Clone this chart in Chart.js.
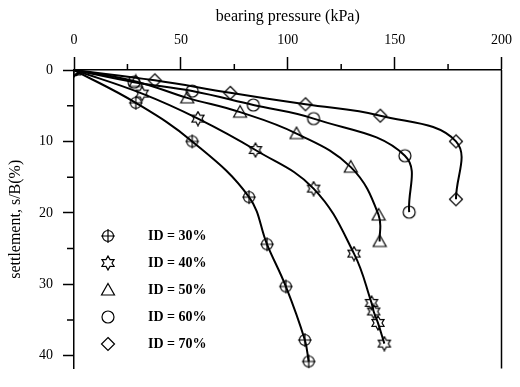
<!DOCTYPE html>
<html>
<head>
<meta charset="utf-8">
<script src="https://cdn.jsdelivr.net/npm/chart.js@4/dist/chart.umd.min.js"></script>
<style>
  html, body { margin: 0; padding: 0; background: #fff; overflow: hidden; }
  #wrap { width: 520px; height: 387px; }
</style>
</head>
<body>
<div id="wrap"><canvas id="myChart"></canvas></div>
<script>
// values
const seriesLabels = ["ID = 30%", "ID = 40%", "ID = 50%", "ID = 60%", "ID = 70%"];
const markerKinds = ["circleCross", "hexagram", "triangle", "circle", "diamond"];

const id30X = [0, 28.9, 55.3, 81.9, 90.3, 99.1, 108.0, 109.8];
const id30Y = [0, 4.6, 10.0, 17.8, 24.4, 30.3, 37.8, 40.8];
const id40X = [0, 31.9, 58.0, 84.9, 112.1, 131.0, 139.2, 140.2, 142.2, 145.2];
const id40Y = [0, 3.3, 6.8, 11.2, 16.6, 25.7, 32.6, 33.8, 35.4, 38.3];
const id50X = [0, 28.9, 53.0, 77.7, 104.1, 129.5, 142.5, 143.0];
const id50Y = [0, 1.6, 3.9, 5.9, 8.9, 13.6, 20.3, 24.0];
const id60X = [0, 28.1, 55.3, 83.9, 112.1, 154.8, 156.8];
const id60Y = [0, 1.7, 2.95, 4.9, 6.8, 12.0, 19.9];
const id70X = [0, 37.8, 73.1, 108.3, 143.3, 178.7, 178.7];
const id70Y = [0, 1.45, 3.2, 4.8, 6.4, 10.0, 18.1];

const xTickLabels = [0, 50, 100, 150, 200];
const yTickLabels = [0, 10, 20, 30, 40];

const serif = "'Liberation Serif', 'Times New Roman', serif";

// hollow black markers drawn on small canvases
const makeMarker = (kind) => {
  const c = document.createElement("canvas");
  c.width = 16;
  c.height = 16;
  const g = c.getContext("2d");
  g.strokeStyle = "#000";
  g.lineWidth = 1.2;
  const m = 8;
  g.beginPath();
  if (kind === "circleCross") {
    g.arc(m, m, 5.5, 0, Math.PI * 2);
    g.moveTo(m - 7, m); g.lineTo(m + 7, m);
    g.moveTo(m, m - 7); g.lineTo(m, m + 7);
  } else if (kind === "circle") {
    g.arc(m, m, 6, 0, Math.PI * 2);
  } else if (kind === "triangle") {
    g.moveTo(m, m - 6.5); g.lineTo(m + 6.5, m + 5); g.lineTo(m - 6.5, m + 5); g.closePath();
  } else if (kind === "diamond") {
    g.moveTo(m, m - 6.5); g.lineTo(m + 6.5, m); g.lineTo(m, m + 6.5); g.lineTo(m - 6.5, m); g.closePath();
  } else if (kind === "hexagram") {
    for (let i = 0; i < 12; i++) {
      const r = i % 2 === 0 ? 7 : 4;
      const a = -Math.PI / 2 + i * Math.PI / 6;
      const px = m + r * Math.cos(a), py = m + r * Math.sin(a);
      if (i === 0) g.moveTo(px, py); else g.lineTo(px, py);
    }
    g.closePath();
  }
  g.stroke();
  return c;
};

const markers = markerKinds.map(makeMarker);

const toPoints = (xs, ys) => xs.map((x, i) => ({ x: x, y: ys[i] }));
const allX = [id30X, id40X, id50X, id60X, id70X];
const allY = [id30Y, id40Y, id50Y, id60Y, id70Y];

const datasets = seriesLabels.map((label, i) => ({
  label: label,
  data: toPoints(allX[i], allY[i]),
  showLine: true,
  borderColor: "#000",
  borderWidth: 2,
  tension: 0.4,
  pointStyle: markers[i],
  backgroundColor: "rgba(0,0,0,0)"
}));

// minor ticks, right frame and in-plot legend
const extras = {
  id: "extras",
  afterDraw(chart) {
    const ctx = chart.ctx;
    const area = chart.chartArea;
    const xs = chart.scales.x;
    const ys = chart.scales.y;
    ctx.save();
    ctx.strokeStyle = "#000";
    ctx.lineWidth = 1.5;
    ctx.beginPath();
    for (let v = 25; v < 200; v += 50) {
      const px = xs.getPixelForValue(v);
      ctx.moveTo(px, area.top); ctx.lineTo(px, area.top - 6);
    }
    for (let v = 5; v < ys.max; v += 10) {
      const py = ys.getPixelForValue(v);
      ctx.moveTo(area.left, py); ctx.lineTo(area.left - 7, py);
    }
    ctx.moveTo(area.right, area.top); ctx.lineTo(area.right, area.bottom);
    ctx.stroke();

    ctx.font = "bold 14px " + serif;
    ctx.fillStyle = "#000";
    ctx.textBaseline = "middle";
    seriesLabels.forEach((label, i) => {
      const y = Math.round(area.top + 166 + i * 27);
      ctx.drawImage(markers[i], area.left + 34 - 8, y - 8);
      ctx.fillText(label, area.left + 74, y);
    });
    ctx.restore();
  }
};

const ctx = document.getElementById("myChart").getContext("2d");
const myChart = new Chart(ctx, {
  type: "scatter",
  data: { datasets: datasets },
  options: {
    responsive: true,
    maintainAspectRatio: false,
    animation: false,
    layout: { padding: { left: 0, right: 12, top: 0, bottom: 0 } },
    elements: { point: { radius: 6 } },
    plugins: {
      legend: { display: false },
      tooltip: { enabled: false }
    },
    scales: {
      x: {
        type: "linear",
        position: "top",
        min: 0,
        max: 200,
        afterFit: (scale) => { scale.height = 70; },
        afterBuildTicks: (scale) => { scale.ticks = xTickLabels.map((v) => ({ value: v })); },
        ticks: {
          color: "#000",
          font: { family: serif, size: 14 },
          padding: 8,
          maxRotation: 0,
          autoSkip: false,
          callback: (v) => String(v)
        },
        grid: {
          drawOnChartArea: false,
          drawTicks: true,
          tickLength: 13,
          tickWidth: 1.5,
          tickColor: "#000"
        },
        border: { display: true, color: "#000", width: 1.5 },
        title: {
          display: true,
          text: "bearing pressure (kPa)",
          color: "#000",
          font: { family: serif, size: 16 },
          padding: { top: 7, bottom: 0 }
        }
      },
      y: {
        type: "linear",
        reverse: true,
        min: 0,
        max: 41.8,
        afterFit: (scale) => { scale.width = 74; },
        afterBuildTicks: (scale) => { scale.ticks = yTickLabels.map((v) => ({ value: v })); },
        ticks: {
          color: "#000",
          font: { family: serif, size: 14 },
          padding: 10,
          autoSkip: false,
          callback: (v) => String(v)
        },
        grid: {
          drawOnChartArea: false,
          drawTicks: true,
          tickLength: 11,
          tickWidth: 1.5,
          tickColor: "#000"
        },
        border: { display: true, color: "#000", width: 1.5 },
        title: {
          display: true,
          text: "settlement, s/B(%)",
          color: "#000",
          font: { family: serif, size: 16 },
          padding: { top: 6, bottom: 0 }
        }
      }
    }
  },
  plugins: [extras]
});
</script>
</body>
</html>
